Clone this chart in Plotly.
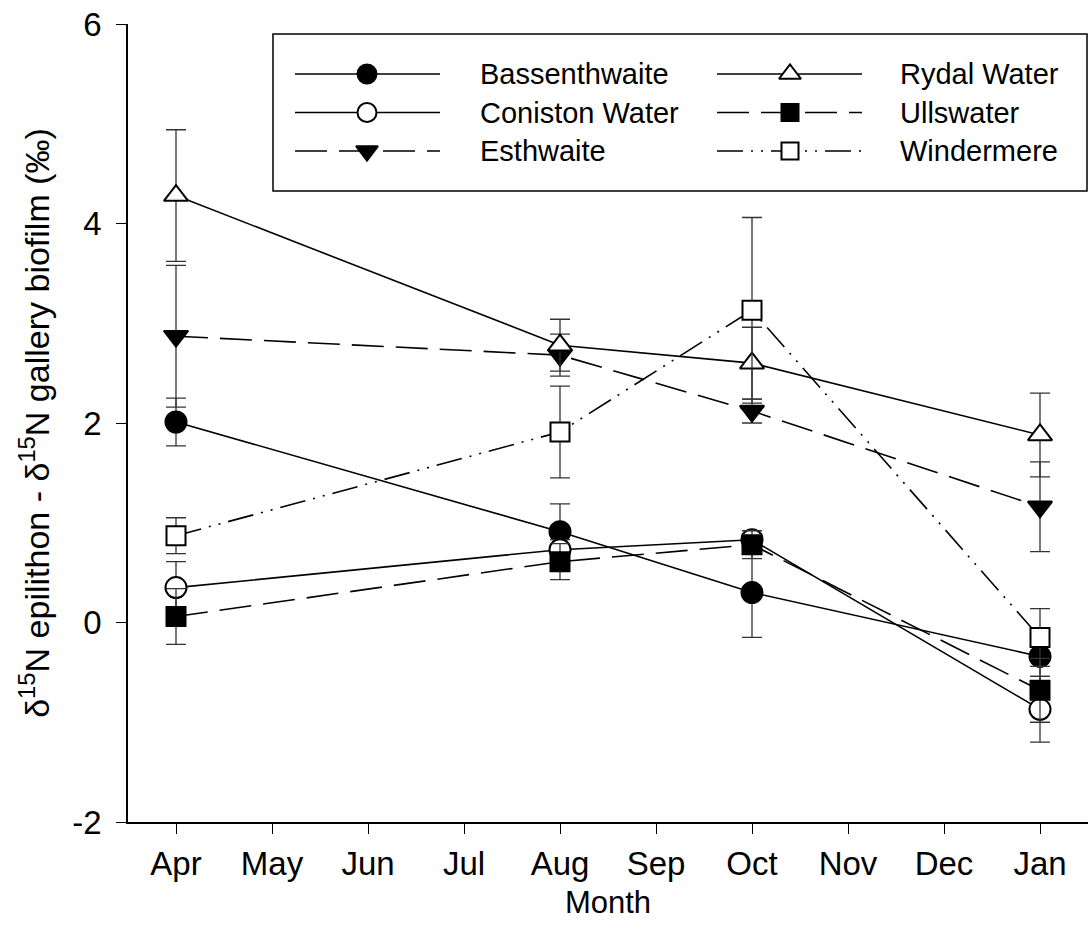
import plotly.graph_objects as go

# Month axis and sampling months
months = ["Apr", "May", "Jun", "Jul", "Aug", "Sep", "Oct", "Nov", "Dec", "Jan"]
sampled = ["Apr", "Aug", "Oct", "Jan"]

# Mean difference (per mil) and error per lake
bass = [2.01, 0.91, 0.30, -0.34]
bass_err = [0.24, 0.28, 0.45, 0.20]
coni = [0.35, 0.73, 0.83, -0.87]
coni_err = [0.26, 0.10, 0.06, 0.33]
esth = [2.87, 2.68, 2.12, 1.16]
esth_err = [0.71, 0.21, 0.12, 0.45]
rydal = [4.28, 2.78, 2.60, 1.88]
rydal_err = [0.66, 0.26, 0.36, 0.42]
ulls = [0.06, 0.61, 0.78, -0.68]
ulls_err = [0.28, 0.18, 0.14, 0.32]
wind = [0.87, 1.91, 3.13, -0.15]
wind_err = [0.18, 0.46, 0.93, 0.29]

y_ticks = [-2, 0, 2, 4, 6]

FONT = "Liberation Sans, Arial, sans-serif"
DASH = "32px,12px"
DASHDOTDOT = "26px,8px,2px,8px,2px,8px"

series = [
    ("Bassenthwaite", bass, bass_err, "circle", "black", "solid"),
    ("Coniston Water", coni, coni_err, "circle", "white", "solid"),
    ("Esthwaite", esth, esth_err, "triangle-down", "black", DASH),
    ("Rydal Water", rydal, rydal_err, "triangle-up", "white", "solid"),
    ("Ullswater", ulls, ulls_err, "square", "black", DASH),
    ("Windermere", wind, wind_err, "square", "white", DASHDOTDOT),
]

x = [months.index(m) for m in sampled]

fig = go.Figure()

for name, vals, errs, sym, fill, dash in series:
    size = 19 if sym == "square" else 21
    fig.add_trace(go.Scatter(
        x=x, y=vals, name=name, mode="lines+markers",
        line=dict(color="black", width=1.6, dash=dash),
        marker=dict(symbol=sym, size=size, color=fill,
                    line=dict(color="black", width=2)),
        error_y=dict(type="data", array=errs, visible=True,
                     color="#333333", thickness=1.3, width=10),
        showlegend=False,
    ))

# Legend key: two columns of line samples drawn on an overlay axis
# spanning the legend box (units in px of the plot area).
key_rows = [117, 78.5, 40]
key_cols = [(167, 312, 239, 350), (589, 734, 662, 770)]
for i, (name, vals, errs, sym, fill, dash) in enumerate(series):
    col = i // 3
    row = i % 3
    x0, x1, xm, xt = key_cols[col]
    yy = key_rows[row]
    size = 17 if sym == "square" else 19
    fig.add_trace(go.Scatter(
        x=[x0, xm, x1], y=[yy, yy, yy], mode="lines",
        line=dict(color="black", width=1.6, dash=dash),
        xaxis="x2", yaxis="y2", showlegend=False, hoverinfo="skip",
    ))
    fig.add_trace(go.Scatter(
        x=[xm], y=[yy], mode="markers",
        marker=dict(symbol=sym, size=size, color=fill,
                    line=dict(color="black", width=2)),
        xaxis="x2", yaxis="y2", showlegend=False, hoverinfo="skip",
    ))
    fig.add_annotation(
        x=xt, y=yy, xref="x2", yref="y2", text=name, showarrow=False,
        xanchor="left", yanchor="middle",
        font=dict(family=FONT, size=29, color="black"),
    )

fig.add_shape(type="rect", xref="x2", yref="y2", x0=145, x1=959, y0=0, y1=157,
              line=dict(color="black", width=1.5), fillcolor="rgba(0,0,0,0)")

fig.update_layout(
    width=1091, height=935,
    margin=dict(l=128, r=3, t=24, b=113),
    paper_bgcolor="white", plot_bgcolor="white",
    font=dict(family=FONT, size=33, color="black"),
    xaxis=dict(
        range=[-0.5, 9.5], tickvals=list(range(len(months))), ticktext=months,
        showgrid=False, zeroline=False, showline=True, linecolor="black",
        linewidth=1.5, ticks="outside", ticklen=10, tickwidth=1.3,
        tickcolor="black", ticklabelstandoff=2,
        title=dict(text="Month", font=dict(size=31), standoff=10),
    ),
    yaxis=dict(
        range=[-2, 6], tickvals=y_ticks, ticktext=[str(v) for v in y_ticks],
        showgrid=False, zeroline=False, showline=True, linecolor="black",
        linewidth=1.5, ticks="outside", ticklen=10, tickwidth=1.3,
        tickcolor="black", ticklabelstandoff=8,
        title=dict(text="\u03b4<sup>15</sup>N epilithon - \u03b4<sup>15</sup>N gallery biofilm (\u2030)",
                   font=dict(size=34), standoff=12),
    ),
    xaxis2=dict(domain=[0, 1], range=[0, 960], visible=False, anchor="y2",
                overlaying="x"),
    yaxis2=dict(domain=[0, 1], range=[-631, 167], visible=False, anchor="x2",
                overlaying="y"),
)

fig.write_html("out.html")
